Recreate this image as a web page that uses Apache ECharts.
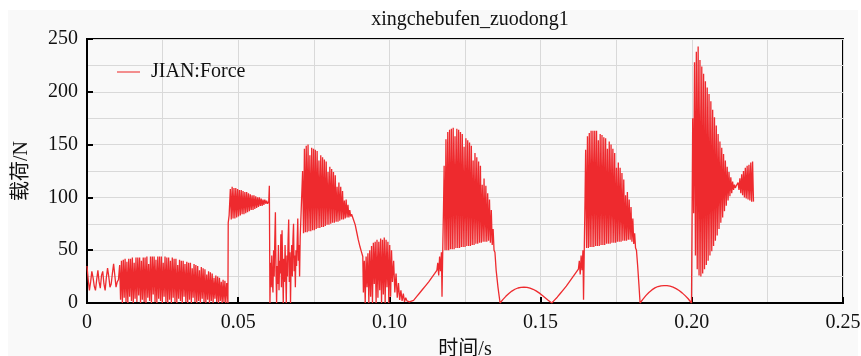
<!DOCTYPE html>
<html>
<head>
<meta charset="utf-8">
<script src="https://cdn.jsdelivr.net/npm/echarts@6/dist/echarts.min.js"></script>
<style>
html,body{margin:0;padding:0;background:#fff;}
#wrap{position:relative;width:861px;height:356px;overflow:hidden;}
#bg{position:absolute;left:8px;top:10px;width:850px;height:346px;background:#f9f9f9;}
#chart{position:absolute;left:0;top:0;width:861px;height:356px;}
</style>
</head>
<body>
<div id="wrap"><div id="bg"></div><div id="chart"></div></div>
<script>
// ---- tick labels / axis settings ----
const xTicks = [0, 0.05, 0.10, 0.15, 0.20, 0.25];
const yTicks = [0, 50, 100, 150, 200, 250];
const seriesName = 'JIAN:Force';

// ---- sampled segments: start time, sample step (s), values (N) ----
const segA_t0 = 0.0, segA_dt = 0.0004;
const segA = [35,22,12,20,30,24,16,12,22,31,20,14,26,30,18,12,24,33,25,15,18,28,37,26,15,20,22];

const segB_t0 = 0.0108, segB_dt = 0.0003;
const segB = [36,3, 40,0, 41,5, 42,1, 39,0, 42,6, 42,2, 43,0, 38,4, 43,1,
              43,7, 43,0, 40,3, 43,1, 43,0, 44,5, 37,2, 44,0, 44,8, 44,1,
              41,0, 44,4, 44,2, 44,0, 38,6, 44,1, 43,0, 43,3, 40,0, 43,5,
              42,1, 42,0, 36,4, 41,2, 40,0, 40,6, 37,1, 39,0, 38,3, 38,0,
              33,5, 37,1, 36,0, 35,2, 31,0, 34,4, 33,1, 32,0, 27,3, 30,0,
              29,2, 28,0, 24,4, 26,1, 25,0, 24,2, 20,0, 22,1, 21,0];

const jump1 = [[0.0462,19],[0.0466,0],[0.0467,76],[0.0470,83]];

const segC_t0 = 0.0474, segC_dt = 0.0003;
const segC = [108,79, 110,80, 109,80, 109,81, 108,82, 107,83, 107,84, 106,84,
              105,85, 105,86, 104,87, 103,88, 102,88, 102,89, 101,90, 100,91,
              100,92, 99,92, 98,93, 98,94, 97,94];

const spike1 = [[0.0601,96],[0.0603,111],[0.0605,0]];

const segD_t0 = 0.0605, segD_dt = 0.0002;
const segD = [0,38,15,45,20,10,50,25,60,86,30,0,35,18,55,12,40,28,65,15,
              69,35,0,42,20,55,30,0,45,25,60,79,20,48,0,38,55,25,60,75,
              30,45,15,50,35,58,80,40,55,25,62];

const segE_t0 = 0.0713, segE_dt = 0.0003;
const segE = [125,66, 146,67, 149,67, 150,68, 140,68, 147,69, 146,69, 145,70,
              144,71, 135,71, 140,72, 138,72, 136,73, 134,74, 124,74, 129,75,
              127,76, 124,76, 121,77, 110,77, 114,78, 110,79, 106,79, 97,80,
              98,81, 93,81, 88,82, 84,83];

const descent1 = [[0.0881,79],[0.0887,74],[0.0892,67],[0.0897,60],[0.0903,53],[0.0908,48],[0.0912,44]];

const segF_t0 = 0.0914, segF_dt = 0.0003;
const segF = [10,40, 0,44, 15,47, 0,50, 6,54, 0,57, 18,58, 0,60,
              5,58, 12,61, 0,60, 8,62, 0,60, 15,58, 0,55, 6,50];

const tail1 = [[0.1010,20],[0.1014,40],[0.1018,10],[0.1022,28],[0.1026,5],[0.1030,19],[0.1034,3],
               [0.1038,12],[0.1042,2],[0.1046,9],[0.1050,1],[0.1054,5],[0.1058,2],[0.1062,3],
               [0.1066,1],[0.1070,0],[0.1080,2.5],[0.1090,6],[0.1100,9.5],[0.1110,13],[0.1120,16.5],
               [0.1130,20],[0.1140,24],[0.1150,28],[0.1157,31],
               [0.1160,38],[0.1163,26],[0.1166,44],[0.1169,30],[0.1172,48],[0.1174,6],[0.1177,60],[0.1179,91]];

const segI_t0 = 0.1181, segI_dt = 0.0003;
const segI = [130,50, 155,50, 162,50, 164,51, 165,51, 166,51, 158,52, 165,52,
              164,52, 162,53, 160,53, 148,53, 156,54, 154,54, 152,54, 149,55,
              135,55, 142,56, 138,56, 134,57, 130,57, 112,58, 118,58, 111,58,
              104,59, 98,57, 88,55, 70,50];

const arch1 = [[0.1349,48],[0.1353,31],[0.1359,15],[0.1366,0],
               [0.1375,3.2],[0.1385,6.3],[0.1395,9],[0.1405,11.3],[0.1415,13],[0.1425,14.2],
               [0.1435,14.8],[0.1445,15],[0.1455,14.8],[0.1465,14.1],[0.1475,13],[0.1485,11.5],
               [0.1495,9.6],[0.1505,7.4],[0.1515,5],[0.1525,2.6],[0.1537,0],
               [0.1545,2.5],[0.1555,5.5],[0.1565,9],[0.1575,12.5],[0.1585,16],[0.1595,20],
               [0.1605,24],[0.1615,28],[0.1625,32],
               [0.1628,40],[0.1631,27],[0.1634,45],[0.1637,31],[0.1640,50],[0.1642,3],[0.1645,62],[0.1647,100]];

const segL_t0 = 0.1649, segL_dt = 0.0003;
const segL = [145,52, 158,52, 161,53, 163,53, 163,53, 163,54, 163,54, 154,54,
              160,55, 159,55, 157,55, 156,56, 146,56, 153,56, 150,57, 146,57,
              142,57, 128,58, 133,58, 128,58, 123,59, 117,59, 102,59, 105,60,
              98,60, 91,58, 80,56, 66,52];

const arch2 = [[0.1817,50],[0.1821,35],[0.1825,18],[0.1829,0],
               [0.1838,3.5],[0.1848,7],[0.1858,10],[0.1868,12.4],[0.1878,14.3],[0.1888,15.6],
               [0.1898,16.3],[0.1908,16.5],[0.1918,16.4],[0.1928,15.9],[0.1938,15],[0.1948,13.6],
               [0.1958,11.8],[0.1968,9.6],[0.1978,7],[0.1988,4],[0.1999,0],[0.2001,0]];

const segM_t0 = 0.2003, segM_dt = 0.0003;
const segM = [175,85, 228,45, 238,32, 243,26, 230,25, 224,28, 217,32, 210,36,
              204,40, 198,45, 191,49, 183,54, 176,59, 168,64, 160,70, 153,76,
              147,81, 141,87, 135,92, 129,97, 124,101, 119,104, 115,107, 112,109,
              111,110, 114,107, 118,104, 122,102, 125,100, 128,99, 130,98, 131,97,
              133,96, 134,96];

// ---- assemble points (times from sampling step) ----
function sampled(t0, dt, vals){ return vals.map((v,i)=>[+(t0+i*dt).toFixed(5), v]); }
const data = [].concat(
  sampled(segA_t0, segA_dt, segA),
  sampled(segB_t0, segB_dt, segB),
  jump1,
  sampled(segC_t0, segC_dt, segC),
  spike1,
  sampled(segD_t0, segD_dt, segD).slice(1),
  sampled(segE_t0, segE_dt, segE),
  descent1,
  sampled(segF_t0, segF_dt, segF),
  tail1,
  sampled(segI_t0, segI_dt, segI),
  arch1,
  sampled(segL_t0, segL_dt, segL),
  arch2,
  sampled(segM_t0, segM_dt, segM)
);

const serif = 'Liberation Serif, "Noto Sans CJK SC", serif';
const gridColor = '#d9d9d9';
const chart = echarts.init(document.getElementById('chart'), null, {renderer:'canvas'});
chart.setOption({
  animation:false,
  backgroundColor:'transparent',
  title:{
    text:'xingchebufen_zuodong1', left:465, top:5, textAlign:'center',
    textStyle:{fontFamily:serif, fontSize:20, fontWeight:'normal', color:'#111'}
  },
  legend:{
    data:[seriesName], left:112, top:57, icon:'rect', itemWidth:23, itemHeight:1.5,
    itemStyle:{color:'#f06a6a'},
    textStyle:{fontFamily:serif, fontSize:20, color:'#111', padding:[0,0,0,6]}
  },
  grid:{left:87, right:18, top:39, bottom:53, show:true, borderColor:'#000', borderWidth:2,
        backgroundColor:'transparent', containLabel:false, outerBoundsMode:'none'},
  xAxis:{
    type:'value', min:xTicks[0], max:xTicks[xTicks.length-1], interval:0.05,
    name:'时间/s', nameLocation:'middle', nameGap:37,
    nameTextStyle:{fontFamily:serif, fontSize:20, color:'#111', verticalAlign:'top'},
    axisLine:{show:true, lineStyle:{color:'#000', width:2}},
    axisTick:{show:true, inside:true, length:6, lineStyle:{color:'#000', width:2}},
    axisLabel:{fontFamily:serif, fontSize:20, color:'#111', margin:10,
      formatter:v=>{ const m = xTicks.find(t=>Math.abs(t-v)<1e-9); return m===0?'0':(m!==undefined? m.toFixed(2): v.toFixed(2)); }},
    splitLine:{show:true, lineStyle:{color:gridColor, width:1}},
    minorTick:{show:false, splitNumber:2},
    minorSplitLine:{show:true, lineStyle:{color:gridColor, width:1}}
  },
  yAxis:{
    type:'value', min:yTicks[0], max:yTicks[yTicks.length-1], interval:50,
    name:'载荷/N', nameLocation:'middle', nameGap:55,
    nameTextStyle:{fontFamily:serif, fontSize:20, color:'#111'},
    axisLine:{show:true, lineStyle:{color:'#000', width:2}},
    axisTick:{show:true, inside:true, length:6, lineStyle:{color:'#000', width:2}},
    axisLabel:{fontFamily:serif, fontSize:20, color:'#111', margin:9},
    splitLine:{show:true, lineStyle:{color:gridColor, width:1}},
    minorTick:{show:false, splitNumber:2},
    minorSplitLine:{show:true, lineStyle:{color:gridColor, width:1}}
  },
  series:[{
    name:seriesName, type:'line', data:data, symbol:'none', showSymbol:false,
    sampling:null, smooth:false, clip:true,
    lineStyle:{color:'#ee2a2e', width:1.3}, itemStyle:{color:'#ee2a2e'}
  }]
});
</script>
</body>
</html>
